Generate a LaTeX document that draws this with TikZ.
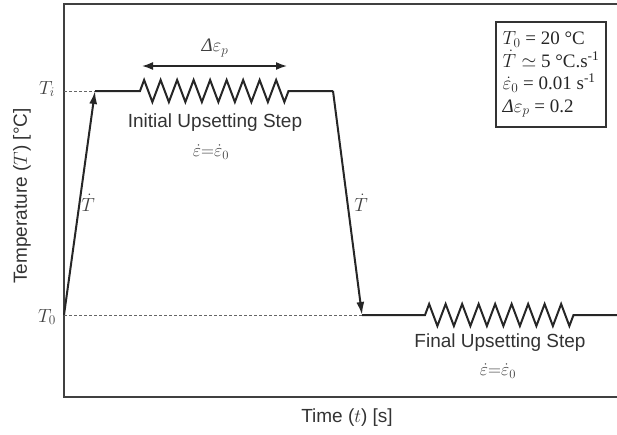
\documentclass[tikz,border=0pt]{standalone}
\usepackage{fix-cm}
\usepackage{fontspec}
\setmainfont{Liberation Sans}
\newfontfamily\boxfont{Liberation Serif}
\newcommand{\itDelta}{{\boxfont\itshape Δ}}
\usetikzlibrary{arrows.meta}
\begin{document}
\begin{tikzpicture}[x=1pt,y=-1pt,
  frame/.style={draw=black!75,line width=2pt},
  curve/.style={draw=black!85,line width=2pt,line join=miter},
  tip/.style={-{Latex[length=13pt,width=8pt]}},
  guide/.style={draw=black!60,line width=0.8pt,dash pattern=on 3pt off 2pt},
  lbl/.style={font=\fontsize{19}{22}\selectfont,text=black!80,inner sep=0pt},
  sym/.style={font=\fontsize{19}{22}\selectfont,text=black!75,inner sep=0pt},
  rate/.style={font=\fontsize{18}{20}\selectfont,text=black!75,inner sep=0pt},
  infobox/.style={draw=black!80,line width=1.5pt,minimum width=110pt,minimum height=105pt,
    inner sep=6pt,align=left,font=\boxfont\fontsize{19}{22.5}\selectfont,text=black!85}]
\useasboundingbox (0,0) rectangle (617,434);
% frame (open at right edge)
\coordinate (fr1) at (617,4);
\coordinate (fr2) at (64,4);
\coordinate (fr3) at (64,397);
\coordinate (fr4) at (617,397);
\draw[frame] (fr1) -- (fr2) -- (fr3) -- (fr4);
% key points
\coordinate (t0) at (64,315);
\coordinate (ti) at (95,91);
\coordinate (z1s) at (140,91);
\coordinate (z1e) at (288.5,91);
\coordinate (d1) at (333,91);
\coordinate (t0b) at (362,315);
\coordinate (z2s) at (425,315);
\coordinate (z2e) at (573.5,315);
\coordinate (tend) at (617,315);
\coordinate (tiax) at (64,91);
% guides
\draw[guide] (tiax) -- (ti);
\draw[guide] (t0) -- (t0b);
% heating ramp
\draw[curve,tip] (t0) -- (ti);
% first plateau with zigzag
\draw[curve] (ti) -- (z1s)
  \foreach \i in {1,...,9} { -- ++(4.125,-11) -- ++(8.25,22) -- ++(4.125,-11) }
  -- (z1e) -- (d1);
% cooling
\draw[curve,tip] (d1) -- (t0b);
% second plateau with zigzag
\draw[curve] (t0b) -- (z2s)
  \foreach \i in {1,...,9} { -- ++(4.125,-11) -- ++(8.25,22) -- ++(4.125,-11) }
  -- (z2e) -- (tend);
% strain arrow
\coordinate (da) at (142,66);
\coordinate (db) at (287,66);
\draw[black!85,line width=1.6pt,{Latex[length=11pt,width=8pt]}-{Latex[length=11pt,width=8pt]}] (da) -- (db);
\node[sym] (deps) at (215,48) {\itDelta$\varepsilon_p$};
% labels
\node[sym] (lti) at (47,89) {$T_i$};
\node[sym] (lt0) at (47,317) {$T_0$};
\node[sym] (tdot1) at (88,203) {$\dot T$};
\node[sym] (tdot2) at (361,203) {$\dot T$};
\node[lbl] (ius) at (215,123) {Initial Upsetting Step};
\node[rate] (r1) at (211,152) {$\dot\varepsilon{=}\dot\varepsilon_0$};
\node[lbl] (fus) at (500,343) {Final Upsetting Step};
\node[rate] (r2) at (498,371) {$\dot\varepsilon{=}\dot\varepsilon_0$};
\node[lbl] (xl) at (347,418) {Time ($t$) [s]};
\node[lbl,rotate=90] (yl) at (22,196) {Temperature ($T$) [°C]};
% parameter box
\node[infobox] (info) at (551,74.5) {$T_0$ = 20 °C\\ $\dot T\simeq$ 5 °C.s\textsuperscript{-1}\\ $\dot\varepsilon_0$ = 0.01 s\textsuperscript{-1}\\ \itDelta$\varepsilon_p$ = 0.2};
\end{tikzpicture}
\end{document}
